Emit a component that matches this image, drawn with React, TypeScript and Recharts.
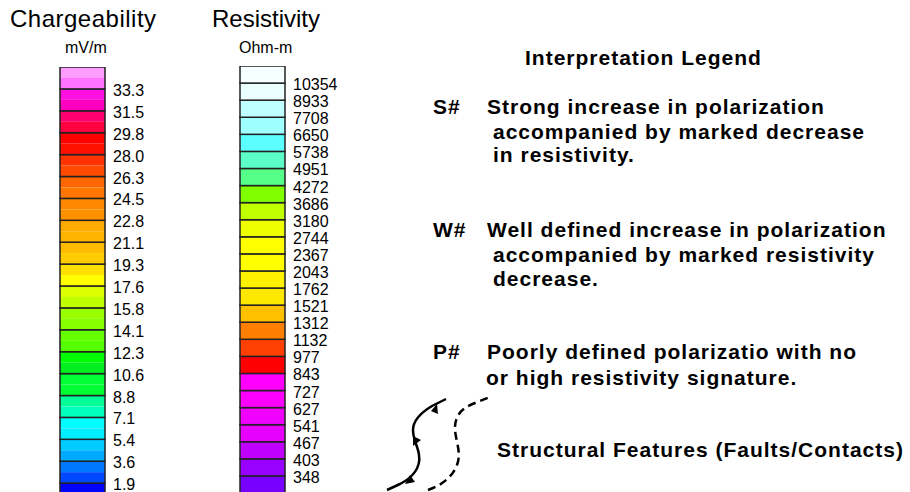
import React from 'react';
import { BarChart, Bar, XAxis, YAxis } from 'recharts';

// Chargeability scale (bottom -> top)
const chargeLabels = ['1.9', '3.6', '5.4', '7.1', '8.8', '10.6', '12.3', '14.1', '15.8', '17.6', '19.3', '21.1', '22.8', '24.5', '26.3', '28.0', '29.8', '31.5', '33.3'];
const chargeUpper = ['#0000FF', '#0077FF', '#00CCFF', '#00FFFF', '#00FF99', '#00FF33', '#00FF00', '#66FF00', '#99FF00', '#DDFF00', '#FFE000', '#FFBB00', '#FFAA00', '#FF8800', '#FF6600', '#FF3300', '#FF0000', '#FF0070', '#FF10E0', '#FF9CFF'];
const chargeLower = ['#0000FF', '#0048FF', '#00AAFF', '#00EEFF', '#00FFBB', '#00FF33', '#00F020', '#55FF00', '#88FF00', '#C0FF00', '#FFFF00', '#FFCC00', '#FFB400', '#FF9000', '#FF7700', '#FF4A00', '#FF1000', '#FF0040', '#FF00C0', '#FF73FF'];

// Resistivity scale (bottom -> top)
const resLabels = ['348', '403', '467', '541', '627', '727', '843', '977', '1132', '1312', '1521', '1762', '2043', '2367', '2744', '3180', '3686', '4272', '4951', '5738', '6650', '7708', '8933', '10354'];
const resColors = ['#7700FF', '#9900FF', '#C000FF', '#E800FF', '#F000FF', '#FF00FF', '#FF00FF', '#FF0000', '#FF4000', '#FF8000', '#FFC000', '#FFE800', '#FFF200', '#FFFF00', '#FFFF00', '#F0FF00', '#C0FF00', '#80FF00', '#55FF88', '#5CFFC8', '#5CFFFF', '#A0FFFF', '#C0FFFF', '#EBFFFF', '#F5FFFF'];

const chargeRow: Record<string, any> = { name: 'Chargeability' };
chargeUpper.forEach((_, i) => { chargeRow['b' + i] = 1; });
const chargeData = [chargeRow];

const resRow: Record<string, any> = { name: 'Resistivity' };
resColors.forEach((_, i) => { resRow['b' + i] = 1; });
const resData = [resRow];

const FONT = '"Liberation Sans", Arial, sans-serif';

const makeTick = (labels: string[]) => (props: any) => {
  const { x, y, payload } = props;
  const v = Math.round(payload.value);
  const label = labels[v - 1];
  return (
    <text x={x} y={y + 7} fontSize={16} fill="#000" fontFamily={FONT} textAnchor="start">
      {label}
    </text>
  );
};

const SplitBox = (upper: string, lower: string) => (props: any) => {
  const { x, y, width, height } = props;
  return (
    <g>
      <rect x={x} y={y} width={width} height={height / 2} fill={upper} />
      <rect x={x} y={y + height / 2} width={width} height={height / 2} fill={lower} />
      <rect x={x} y={y} width={width} height={height} fill="none" stroke="#222" strokeWidth={1.5} />
    </g>
  );
};

const PlainBox = (color: string) => (props: any) => {
  const { x, y, width, height } = props;
  return <rect x={x} y={y} width={width} height={height} fill={color} stroke="#222" strokeWidth={1.5} />;
};

const chargeTicks = chargeLabels.map((_, i) => i + 1);
const resTicks = resLabels.map((_, i) => i + 1);

const textStyle = { fontFamily: FONT, fill: '#000' } as const;
const boldLine = { ...textStyle, fontWeight: 700, fontSize: 21, letterSpacing: 1 } as const;

export default function App() {
  return (
    <div style={{ position: 'absolute', left: 0, top: 0, width: 910, height: 492, overflow: 'hidden', background: '#fff' }}>
      <div style={{ position: 'absolute', left: 0, top: 0 }}>
        <BarChart width={165} height={505} data={chargeData} margin={{ top: 67, left: 60, right: 0, bottom: 0 }} barCategoryGap={0} barGap={0}>
          <XAxis dataKey="name" hide />
          <YAxis type="number" domain={[0, chargeUpper.length]} ticks={chargeTicks} interval={0} orientation="right" axisLine={false} tickLine={false} width={60} tick={makeTick(chargeLabels)} allowDataOverflow />
          {chargeUpper.map((c, i) => (
            <Bar key={i} dataKey={'b' + i} stackId="s" isAnimationActive={false} shape={SplitBox(c, chargeLower[i])} />
          ))}
        </BarChart>
      </div>
      <div style={{ position: 'absolute', left: 180, top: 0 }}>
        <BarChart width={175} height={493} data={resData} margin={{ top: 66, left: 60, right: 0, bottom: 0 }} barCategoryGap={0} barGap={0}>
          <XAxis dataKey="name" hide />
          <YAxis type="number" domain={[0, resColors.length]} ticks={resTicks} interval={0} orientation="right" axisLine={false} tickLine={false} width={70} tick={makeTick(resLabels)} allowDataOverflow />
          {resColors.map((c, i) => (
            <Bar key={i} dataKey={'b' + i} stackId="s" isAnimationActive={false} shape={PlainBox(c)} />
          ))}
        </BarChart>
      </div>
      <svg width={910} height={492} style={{ position: 'absolute', left: 0, top: 0, pointerEvents: 'none' }}>
        <text x={10} y={27} fontSize={24} letterSpacing={0.5} style={textStyle}>Chargeability</text>
        <text x={65} y={53} fontSize={16} style={textStyle}>mV/m</text>
        <text x={212} y={27} fontSize={24} style={textStyle}>Resistivity</text>
        <text x={239} y={53} fontSize={16} style={textStyle}>Ohm-m</text>

        <text x={525} y={65} style={boldLine}>Interpretation Legend</text>

        <text x={433} y={114} style={boldLine}>S#</text>
        <text x={487} y={114} style={boldLine}>Strong increase in polarization</text>
        <text x={493} y={139} style={boldLine}>accompanied by marked decrease</text>
        <text x={493} y={162} style={boldLine}>in resistivity.</text>

        <text x={433} y={237} style={boldLine}>W#</text>
        <text x={487} y={237} style={boldLine}>Well defined increase in polarization</text>
        <text x={493} y={262} style={boldLine}>accompanied by marked resistivity</text>
        <text x={493} y={286} style={boldLine}>decrease.</text>

        <text x={433} y={359} style={boldLine}>P#</text>
        <text x={487} y={359} style={boldLine}>Poorly defined polarizatio with no</text>
        <text x={486} y={385} style={boldLine}>or high resistivity signature.</text>

        <text x={497} y={457} style={boldLine}>Structural Features (Faults/Contacts)</text>

        <path d="M387,490 L400,484 C412,478 421,468 419,455 C418,446 413,440 413,430 C413,420 422,412 432,406 L446,399" fill="none" stroke="#000" strokeWidth={2.5} />
        <polygon points="437,404 431,411 438,414" fill="#000" />
        <polygon points="413,436 421,440 413,446" fill="#000" />
        <polygon points="405,484 410,475 415,482" fill="#000" />
        <path d="M428,490 C440,486 452,478 457,465 C462,452 455,440 455,428 C455,415 462,408 475,403 L490,397" fill="none" stroke="#000" strokeWidth={2.5} strokeDasharray="8,5" />
      </svg>
    </div>
  );
}
